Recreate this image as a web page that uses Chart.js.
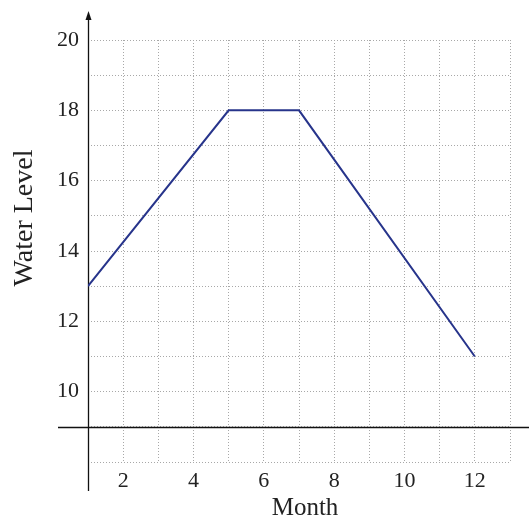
<!DOCTYPE html>
<html>
<head>
<meta charset="utf-8">
<script src="https://cdn.jsdelivr.net/npm/chart.js@4"></script>
<style>
  html, body { margin: 0; padding: 0; background: #fff; }
  #wrap { width: 529px; height: 517px; }
</style>
</head>
<body>
<div id="wrap"><canvas id="levelChart"></canvas></div>
<script>
// Water level per month
const months = [1, 5, 7, 12];
const levels = [13, 18, 18, 11];

const xTickLabels = [2, 4, 6, 8, 10, 12];
const yTickLabels = [10, 12, 14, 16, 18, 20];

const xTitle = 'Month';
const yTitle = 'Water Level';

const serif = 'Liberation Serif, Times New Roman, serif';

// axes crossing at (1, 9), drawn past the plot area, arrow on the vertical one
const crossAxes = {
    id: 'crossAxes',
    beforeDatasetsDraw(chart) {
        const ctx = chart.ctx;
        const x = chart.scales.x;
        const y = chart.scales.y;
        const x0 = Math.round(x.getPixelForValue(1)) + 0.5;
        const y0 = Math.round(y.getPixelForValue(9)) + 0.5;
        ctx.save();
        ctx.strokeStyle = '#111';
        ctx.fillStyle = '#111';
        ctx.lineWidth = 1.3;
        ctx.beginPath();
        ctx.moveTo(58, y0);
        ctx.lineTo(chart.width, y0);
        ctx.moveTo(x0, 491);
        ctx.lineTo(x0, 18);
        ctx.stroke();
        ctx.beginPath();
        ctx.moveTo(x0, 11);
        ctx.lineTo(x0 - 3, 20);
        ctx.lineTo(x0 + 3, 20);
        ctx.closePath();
        ctx.fill();
        ctx.restore();
    }
};

// axis titles, placed by hand
const axisTitles = {
    id: 'axisTitles',
    afterDraw(chart) {
        const ctx = chart.ctx;
        ctx.save();
        ctx.fillStyle = '#222';
        ctx.textAlign = 'center';
        ctx.textBaseline = 'alphabetic';
        ctx.font = '25px ' + serif;
        ctx.fillText(xTitle, 305, 515);
        ctx.translate(32, 218);
        ctx.rotate(-Math.PI / 2);
        ctx.font = '28px ' + serif;
        ctx.fillText(yTitle, 0, 0);
        ctx.restore();
    }
};

const dotted = {
    color: '#a8a8a8',
    lineWidth: 1,
    drawTicks: false
};

new Chart(document.getElementById('levelChart'), {
    type: 'line',
    data: {
        datasets: [{
            data: months.map((m, i) => ({ x: m, y: levels[i] })),
            borderColor: '#27348b',
            borderWidth: 2,
            pointRadius: 0,
            tension: 0,
            fill: false
        }]
    },
    options: {
        responsive: true,
        maintainAspectRatio: false,
        animation: false,
        layout: { padding: { top: 40, right: 19, left: 0, bottom: 0 } },
        plugins: {
            legend: { display: false },
            tooltip: { enabled: false }
        },
        scales: {
            x: {
                type: 'linear',
                min: 1,
                max: 13,
                grid: dotted,
                border: { display: false, dash: [1, 2] },
                ticks: {
                    stepSize: 1,
                    autoSkip: false,
                    maxRotation: 0,
                    padding: 6,
                    color: '#222',
                    font: { family: serif, size: 22 },
                    callback: v => xTickLabels.includes(v) ? String(v) : ''
                },
                afterFit(scale) { scale.height = 55; }
            },
            y: {
                type: 'linear',
                min: 8,
                max: 20,
                grid: dotted,
                border: { display: false, dash: [1, 2] },
                ticks: {
                    stepSize: 1,
                    autoSkip: false,
                    padding: 9,
                    color: '#222',
                    font: { family: serif, size: 22 },
                    callback: v => yTickLabels.includes(v) ? String(v) : ''
                },
                afterFit(scale) { scale.width = 88; }
            }
        }
    },
    plugins: [crossAxes, axisTitles]
});
</script>
</body>
</html>
